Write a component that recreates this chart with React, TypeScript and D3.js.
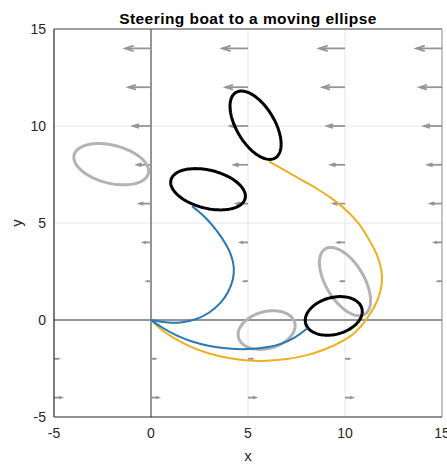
import React, { useEffect, useRef } from "react";
import * as d3 from "d3";

// axis ticks
const xTicks = [-5, 0, 5, 10, 15];
const yTicks = [-5, 0, 5, 10, 15];

// current field (quiver): columns, rows and horizontal component per row
const arrowCols = [-5, 0, 5, 10, 15];
const arrowRows = [-4, -2, 2, 4, 6, 8, 10, 12, 14];
const arrowU = [0.38, 0.22, -0.2, -0.38, -0.59, -0.72, -0.93, -1.16, -1.33];

// ellipses: center, semi axes, rotation (deg), colour
const ellipseCx = [-2.05, 5.96, 10.0, 2.94, 9.42, 5.39];
const ellipseCy = [8.03, -0.52, 1.98, 6.74, 0.21, 10.04];
const ellipseA = [1.97, 1.5, 1.97, 1.97, 1.5, 1.97];
const ellipseB = [0.98, 0.95, 0.98, 0.98, 0.95, 0.98];
const ellipseRot = [-14, 15, -59, -14, 15, -59];
const ellipseColor = ["#b3b3b3", "#b3b3b3", "#b3b3b3", "#000000", "#000000", "#000000"];

// boat paths
const blueUpper: [number, number][] = [
  [0, 0], [0.5, -0.1], [1.0, -0.15], [1.6, -0.13], [2.3, 0.0], [3.0, 0.35],
  [3.6, 0.85], [4.0, 1.45], [4.25, 2.1], [4.3, 2.7], [4.15, 3.35], [3.85, 3.95],
  [3.4, 4.6], [2.9, 5.2], [2.45, 5.6], [2.12, 5.86],
];
const blueLower: [number, number][] = [
  [0, 0], [0.6, -0.42], [1.3, -0.8], [2.1, -1.12], [3.0, -1.35], [4.0, -1.49],
  [5.0, -1.52], [6.0, -1.42], [6.7, -1.25], [7.4, -0.95], [8.06, -0.43],
];
const yellowPath: [number, number][] = [
  [0, 0], [0.5, -0.5], [1.2, -0.95], [2.0, -1.38], [3.0, -1.75], [4.0, -1.98],
  [5.0, -2.1], [6.0, -2.12], [7.0, -2.03], [8.0, -1.85], [9.0, -1.52],
  [10.0, -1.05], [10.6, -0.6], [11.1, 0], [11.55, 0.7], [11.85, 1.45], [11.95, 2.2],
  [11.8, 3.0], [11.5, 3.7], [11.15, 4.3], [10.75, 4.95], [10.15, 5.6], [9.44, 6.2],
  [8.6, 6.75], [7.72, 7.24], [6.9, 7.72], [6.08, 8.18],
];

const App = () => {
  const ref = useRef<SVGSVGElement>(null);

  useEffect(() => {
    const width = 447;
    const height = 464;
    const marginTop = 29;
    const marginRight = 5;
    const marginBottom = 47;
    const marginLeft = 54;

    const x = d3.scaleLinear().domain([-5, 15]).range([marginLeft, width - marginRight]);
    const y = d3.scaleLinear().domain([-5, 15]).range([height - marginBottom, marginTop]);

    const svg = d3.select(ref.current);
    svg.selectAll("*").remove();

    svg.append("rect").attr("width", width).attr("height", height).attr("fill", "white");

    svg.append("defs")
      .append("clipPath")
      .attr("id", "plot-clip")
      .append("rect")
      .attr("x", marginLeft)
      .attr("y", marginTop)
      .attr("width", width - marginLeft - marginRight)
      .attr("height", height - marginTop - marginBottom);

    const font = "'Liberation Sans', Arial, sans-serif";

    // grid
    const grid = svg.append("g").attr("stroke", "#e6e6e6").attr("stroke-width", 1);
    [5, 10].forEach((v) => {
      grid.append("line").attr("x1", x(v)).attr("x2", x(v)).attr("y1", y(-5)).attr("y2", y(15));
      grid.append("line").attr("y1", y(v)).attr("y2", y(v)).attr("x1", x(-5)).attr("x2", x(15));
    });

    const plot = svg.append("g").attr("clip-path", "url(#plot-clip)");

    // lines through the origin
    plot.append("line")
      .attr("x1", x(0)).attr("x2", x(0)).attr("y1", y(-5)).attr("y2", y(15))
      .attr("stroke", "#707070").attr("stroke-width", 1.5);
    plot.append("line")
      .attr("y1", y(0)).attr("y2", y(0)).attr("x1", x(-5)).attr("x2", x(15))
      .attr("stroke", "#707070").attr("stroke-width", 1.5);

    // quiver arrows
    const arrows = plot.append("g")
      .attr("stroke", "#959595")
      .attr("stroke-width", 1.8)
      .attr("fill", "none");
    const alpha = 0.33;
    const beta = 0.33;
    arrowRows.forEach((row, i) => {
      const u = arrowU[i];
      const v = 0;
      arrowCols.forEach((col) => {
        const tipX = col + u;
        const tipY = row + v;
        arrows.append("line")
          .attr("x1", x(col)).attr("y1", y(row))
          .attr("x2", x(tipX)).attr("y2", y(tipY));
        const head: [number, number][] = [
          [tipX - alpha * (u + beta * v), tipY - alpha * (v - beta * u)],
          [tipX, tipY],
          [tipX - alpha * (u - beta * v), tipY - alpha * (v + beta * u)],
        ];
        arrows.append("path")
          .attr("d", d3.line().x((d) => x(d[0])).y((d) => y(d[1]))(head));
      });
    });

    // ellipses
    const ellipseLine = d3.line<[number, number]>()
      .x((d) => x(d[0]))
      .y((d) => y(d[1]))
      .curve(d3.curveLinearClosed);
    ellipseCx.forEach((cx, i) => {
      const a = ellipseA[i];
      const b = ellipseB[i];
      const th = (ellipseRot[i] * Math.PI) / 180;
      const pts: [number, number][] = d3.range(0, 2 * Math.PI, Math.PI / 60).map((t) => [
        cx + a * Math.cos(t) * Math.cos(th) - b * Math.sin(t) * Math.sin(th),
        ellipseCy[i] + a * Math.cos(t) * Math.sin(th) + b * Math.sin(t) * Math.cos(th),
      ]);
      plot.append("path")
        .attr("d", ellipseLine(pts))
        .attr("fill", "none")
        .attr("stroke", ellipseColor[i])
        .attr("stroke-width", 3);
    });

    // boat paths
    const pathLine = d3.line<[number, number]>()
      .x((d) => x(d[0]))
      .y((d) => y(d[1]))
      .curve(d3.curveBasis);
    plot.append("path").attr("d", pathLine(yellowPath))
      .attr("fill", "none").attr("stroke", "#EDB120").attr("stroke-width", 2);
    plot.append("path").attr("d", pathLine(blueLower))
      .attr("fill", "none").attr("stroke", "#2878B4").attr("stroke-width", 2);
    plot.append("path").attr("d", pathLine(blueUpper))
      .attr("fill", "none").attr("stroke", "#2878B4").attr("stroke-width", 2);

    // frame
    svg.append("line")
      .attr("x1", x(-5)).attr("x2", x(15)).attr("y1", y(15)).attr("y2", y(15))
      .attr("stroke", "#404040").attr("stroke-width", 1);
    svg.append("line")
      .attr("x1", x(15)).attr("x2", x(15)).attr("y1", y(15)).attr("y2", y(-5))
      .attr("stroke", "#8a8a8a").attr("stroke-width", 1);
    svg.append("line")
      .attr("x1", x(-5)).attr("x2", x(-5)).attr("y1", y(15)).attr("y2", y(-5))
      .attr("stroke", "#262626").attr("stroke-width", 1.2);
    svg.append("line")
      .attr("x1", x(-5)).attr("x2", x(15)).attr("y1", y(-5)).attr("y2", y(-5))
      .attr("stroke", "#262626").attr("stroke-width", 1.2);

    // tick labels
    svg.append("g")
      .selectAll("text")
      .data(xTicks)
      .join("text")
      .attr("x", (d) => x(d))
      .attr("y", height - marginBottom + 21)
      .attr("text-anchor", "middle")
      .attr("font-family", font)
      .attr("font-size", 14)
      .attr("fill", "#262626")
      .text((d) => d);
    svg.append("g")
      .selectAll("text")
      .data(yTicks)
      .join("text")
      .attr("x", marginLeft - 8)
      .attr("y", (d) => y(d))
      .attr("dy", "0.35em")
      .attr("text-anchor", "end")
      .attr("font-family", font)
      .attr("font-size", 14)
      .attr("fill", "#262626")
      .text((d) => d);

    // axis labels and title
    svg.append("text")
      .attr("x", x(5))
      .attr("y", 461)
      .attr("text-anchor", "middle")
      .attr("font-family", font)
      .attr("font-size", 15)
      .attr("fill", "#262626")
      .text("x");
    svg.append("text")
      .attr("transform", `translate(22,${y(5)}) rotate(-90)`)
      .attr("text-anchor", "middle")
      .attr("font-family", font)
      .attr("font-size", 15)
      .attr("fill", "#262626")
      .text("y");
    svg.append("text")
      .attr("x", x(5))
      .attr("y", 24)
      .attr("text-anchor", "middle")
      .attr("font-family", font)
      .attr("font-size", 15.5)
      .attr("letter-spacing", 0.45)
      .attr("font-weight", "bold")
      .attr("fill", "#000")
      .text("Steering boat to a moving ellipse");
  }, []);

  return (
    <svg
      ref={ref}
      width={447}
      height={464}
      style={{ position: "absolute", left: 0, top: 0 }}
    />
  );
};

export default App;
